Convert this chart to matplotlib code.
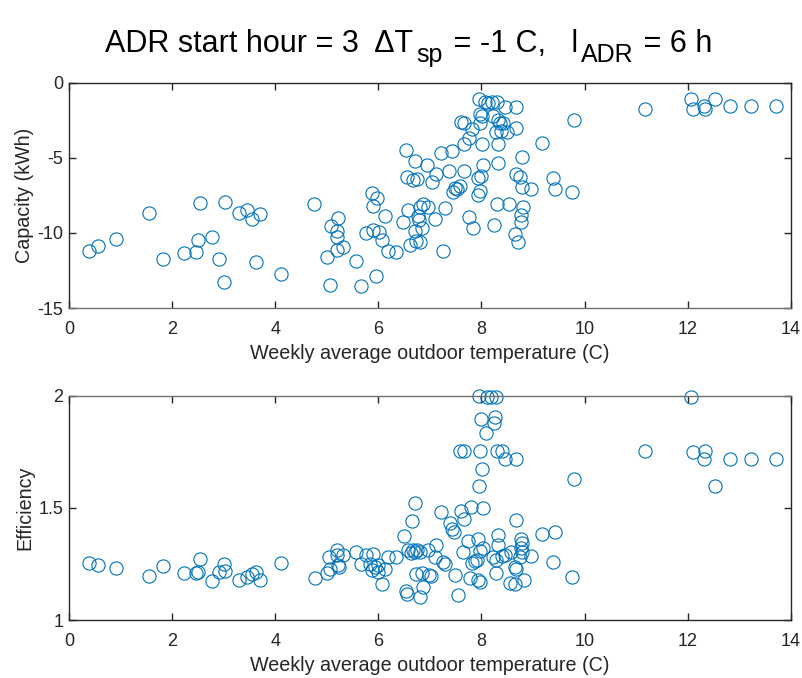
import matplotlib
matplotlib.use("Agg")
import matplotlib.pyplot as plt

plt.rcParams['font.family'] = ['Liberation Sans', 'DejaVu Sans']
plt.rcParams['axes.unicode_minus'] = False

# capacity panel (weekly avg outdoor temperature, capacity kWh)
temp_cap = [0.39, 0.56, 0.92, 1.56, 1.82, 2.24, 2.46, 2.50, 2.55, 2.77,
            2.91, 3.01, 3.03, 3.29, 3.46, 3.55, 3.63, 3.70, 4.11, 4.76,
            5.00, 5.06, 5.08, 5.19, 5.20, 5.22, 5.19, 5.32, 5.56, 5.67,
            5.76, 5.87, 5.89, 5.89, 5.98, 5.95, 6.02, 6.08, 6.12, 6.18,
            6.35, 6.48, 6.53, 6.55, 6.57, 6.61, 6.68, 6.72, 6.76, 6.71,
            6.73, 6.77, 6.80, 6.79, 6.81, 6.85, 6.87, 6.94, 6.97, 7.05,
            7.10, 7.12, 7.21, 7.26, 7.29, 7.37, 7.42, 7.48, 7.45, 7.53,
            7.58, 7.60, 7.66, 7.66, 7.67, 7.76, 7.76, 7.81, 7.83, 7.94,
            7.94, 7.97, 7.95, 7.98, 7.98, 8.00, 8.02, 8.02, 8.03, 8.07,
            8.13, 8.20, 8.22, 8.24, 8.28, 8.31, 8.31, 8.32, 8.32, 8.32,
            8.36, 8.37, 8.42, 8.45, 8.49, 8.54, 8.67, 8.68, 8.67, 8.74,
            8.78, 8.78, 8.81, 8.76, 8.76, 8.65, 8.71, 8.97, 9.18, 9.39,
            9.42, 9.76, 9.79, 11.18, 12.07, 12.11, 12.31, 12.33, 12.53, 12.82,
            13.22, 13.72]
capacity = [-11.2, -10.9, -10.4, -8.65, -11.75, -11.35, -11.25, -10.5, -8.0, -10.3,
            -11.75, -13.25, -7.95, -8.7, -8.5, -9.05, -11.95, -8.75, -12.7, -8.1,
            -11.6, -13.45, -9.55, -9.9, -10.25, -9.0, -11.15, -10.95, -11.9, -13.55,
            -10.0, -7.35, -8.2, -9.8, -7.7, -12.85, -9.95, -10.5, -8.9, -11.2,
            -11.3, -9.25, -4.5, -6.3, -8.45, -10.8, -6.45, -5.2, -6.4, -9.9,
            -10.55, -8.9, -8.25, -9.15, -10.6, -9.7, -8.05, -5.5, -8.3, -6.6,
            -9.1, -6.05, -4.7, -11.2, -8.35, -5.9, -4.55, -7.0, -7.25, -7.1,
            -6.9, -2.6, -5.9, -4.05, -2.65, -3.65, -8.95, -3.1, -9.7, -6.35,
            -7.45, -7.2, -1.1, -2.05, -2.7, -6.2, -2.2, -4.1, -5.5, -1.3,
            -1.35, -1.3, -2.2, -9.5, -3.3, -1.3, -8.1, -2.5, -4.05, -5.35,
            -2.7, -3.2, -2.65, -1.6, -3.3, -8.05, -3.0, -1.6, -6.05, -6.3,
            -4.95, -6.95, -8.3, -8.8, -9.25, -10.1, -10.6, -7.1, -4.0, -6.35,
            -7.1, -7.3, -2.45, -1.75, -1.1, -1.75, -1.55, -1.75, -1.1, -1.55,
            -1.55, -1.55]

# efficiency panel
temp_eff = [0.39, 0.56, 0.92, 1.56, 1.82, 2.24, 2.46, 2.50, 2.55, 2.77,
            2.91, 3.01, 3.03, 3.29, 3.46, 3.55, 3.63, 3.70, 4.11, 4.77,
            5.01, 5.06, 5.05, 5.19, 5.19, 5.22, 5.24, 5.32, 5.56, 5.66,
            5.76, 5.89, 5.84, 5.87, 5.93, 5.99, 5.99, 6.13, 6.08, 6.18,
            6.34, 6.50, 6.66, 6.71, 6.53, 6.55, 6.58, 6.64, 6.68, 6.72,
            6.76, 6.80, 6.74, 6.84, 6.80, 6.86, 6.97, 6.99, 7.03, 7.12,
            7.10, 7.21, 7.26, 7.30, 7.39, 7.42, 7.47, 7.48, 7.55, 7.58,
            7.61, 7.65, 7.66, 7.67, 7.74, 7.78, 7.79, 7.81, 7.87, 7.91,
            7.94, 7.94, 7.97, 7.95, 7.95, 7.97, 7.98, 8.00, 8.02, 8.03,
            8.03, 8.08, 8.11, 8.18, 8.23, 8.25, 8.26, 8.29, 8.29, 8.29,
            8.31, 8.32, 8.32, 8.39, 8.39, 8.45, 8.45, 8.55, 8.58, 8.65,
            8.65, 8.67, 8.68, 8.68, 8.76, 8.78, 8.76, 8.78, 8.74, 8.82,
            8.97, 9.18, 9.39, 9.42, 9.76, 9.79, 11.18, 12.06, 12.11, 12.33,
            12.31, 12.53, 12.82, 13.22, 13.72]
efficiency = [1.255, 1.245, 1.23, 1.195, 1.24, 1.21, 1.208, 1.214, 1.27, 1.172,
              1.215, 1.25, 1.22, 1.178, 1.19, 1.205, 1.212, 1.18, 1.255, 1.186,
              1.208, 1.226, 1.28, 1.312, 1.29, 1.245, 1.235, 1.29, 1.305, 1.25,
              1.29, 1.294, 1.25, 1.223, 1.238, 1.245, 1.215, 1.226, 1.16, 1.282,
              1.28, 1.375, 1.441, 1.523, 1.13, 1.118, 1.31, 1.30, 1.312, 1.305,
              1.31, 1.305, 1.205, 1.21, 1.102, 1.146, 1.312, 1.2, 1.196, 1.334,
              1.282, 1.48, 1.258, 1.248, 1.434, 1.404, 1.394, 1.2, 1.113, 1.753,
              1.487, 1.305, 1.753, 1.449, 1.354, 1.186, 1.502, 1.253, 1.262, 1.267,
              1.36, 1.178, 1.171, 1.599, 1.999, 1.753, 1.309, 1.896, 1.672, 1.498,
              1.32, 1.835, 1.996, 1.996, 1.282, 1.877, 1.904, 1.996, 1.211, 1.267,
              1.753, 1.379, 1.334, 1.753, 1.285, 1.29, 1.718, 1.164, 1.305, 1.238,
              1.16, 1.446, 1.226, 1.718, 1.36, 1.342, 1.32, 1.305, 1.282, 1.178,
              1.285, 1.383, 1.257, 1.394, 1.193, 1.63, 1.753, 1.996, 1.75, 1.753,
              1.716, 1.599, 1.716, 1.716, 1.716]

# title pieces: (text, subscript?)
title_parts = [('ADR start hour = 3  \u0394T', False), ('sp', True),
               (' = -1 C,   l', False), ('ADR', True), (' = 6 h', False)]

blue = '#0072BD'
dark = '#262626'

fig = plt.figure(figsize=(8.02, 6.78), dpi=100)
ax1 = fig.add_axes([0.086, 0.5457, 0.9, 0.332])
ax2 = fig.add_axes([0.086, 0.0855, 0.9, 0.331])


def style(ax):
    for s in ax.spines.values():
        s.set_color(dark)
        s.set_linewidth(1.0)
    ax.tick_params(direction='in', length=5, width=1.0, colors=dark,
                   labelsize=13, top=True, right=True)
    ax.tick_params(axis='x', pad=9.5)
    ax.tick_params(axis='y', pad=4)
    ax.set_xlim(0, 14)
    ax.set_xticks(range(0, 15, 2))
    ax.set_xlabel('Weekly average outdoor temperature (C)', fontsize=14.2,
                  color=dark, labelpad=4)


ax1.plot(temp_cap, capacity, 'o', mfc='none', mec=blue, ms=9.5, mew=0.8, clip_on=False)
style(ax1)
ax1.spines['bottom'].set_color('#707070')
ax1.set_ylim(-15, 0)
ax1.set_yticks([-15, -10, -5, 0])
ax1.set_ylabel('Capacity (kWh)', fontsize=14.2, color=dark)
ax1.yaxis.set_label_coords(-0.048, 0.5)

ax2.plot(temp_eff, efficiency, 'o', mfc='none', mec=blue, ms=9.5, mew=0.8, clip_on=False)
style(ax2)
ax2.spines['top'].set_color('#707070')
ax2.set_ylim(1, 2)
ax2.set_yticks([1, 1.5, 2])
ax2.set_yticklabels(['1', '1.5', '2'])
ax2.set_ylabel('Efficiency', fontsize=14.2, color=dark)
ax2.yaxis.set_label_coords(-0.048, 0.5)

# title built piece by piece so the subscripts sit low like the original
renderer = fig.canvas.get_renderer()
x = 105 / 802
base = 1 - 52 / 678
for txt, sub in title_parts:
    t = fig.text(x, base - (10 / 678 if sub else 0), txt,
                 fontsize=18 if sub else 22, va='baseline', ha='left')
    w = t.get_window_extent(renderer).width
    x += (w + (2 if sub else 3)) / 802

fig.savefig('out.png', dpi=100)
